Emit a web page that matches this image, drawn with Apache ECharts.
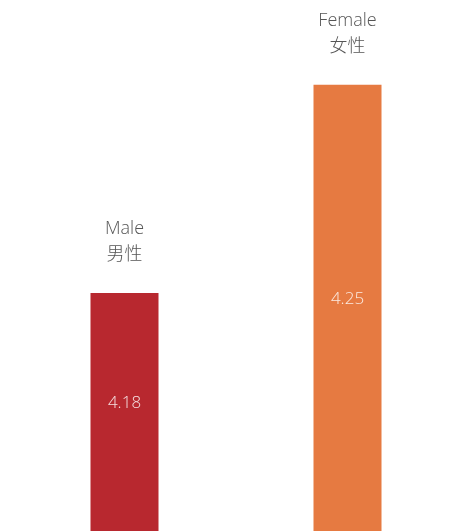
<!DOCTYPE html>
<html>
<head>
<meta charset="UTF-8">
<title>Male / Female</title>
<script src="https://cdn.jsdelivr.net/npm/echarts@6/dist/echarts.min.js"></script>
<style>
  html, body { margin: 0; padding: 0; background: #fff; }
  #main { width: 459px; height: 531px; }
</style>
</head>
<body>
<div id="main"></div>
<script type="text/javascript">
var namesEn = ['Male', 'Female'];
var namesZh = ['男性', '女性'];
var values = [4.18, 4.25];
var colors = ['#B8282F', '#E67A41'];

var myChart = echarts.init(document.getElementById('main'));
var font = '"Open Sans", "Noto Sans CJK SC", sans-serif';

var barData = values.map(function (v, i) {
    return { value: v, itemStyle: { color: colors[i] } };
});

var option = {
    animation: false,
    grid: { left: 13, width: 448, top: 0, bottom: 0 },
    xAxis: {
        type: 'category',
        data: namesEn,
        show: false
    },
    yAxis: {
        type: 'value',
        min: 4.1,
        max: 4.2785,
        show: false
    },
    series: [
        {
            type: 'bar',
            barWidth: 68,
            data: barData,
            label: {
                show: true,
                position: 'inside',
                offset: [0, -9],
                color: 'rgba(255,255,255,0.85)',
                fontFamily: font,
                fontWeight: 300,
                fontSize: 17
            }
        },
        {
            // labels above the bars
            type: 'bar',
            barWidth: 68,
            barGap: '-100%',
            data: values,
            itemStyle: { color: 'transparent' },
            silent: true,
            label: {
                show: true,
                position: 'top',
                distance: 25,
                color: '#555',
                fontFamily: font,
                fontWeight: 300,
                fontSize: 18,
                lineHeight: 26,
                formatter: function (p) {
                    return namesEn[p.dataIndex] + '\n' + namesZh[p.dataIndex];
                }
            }
        }
    ]
};
myChart.setOption(option);
</script>
</body>
</html>
